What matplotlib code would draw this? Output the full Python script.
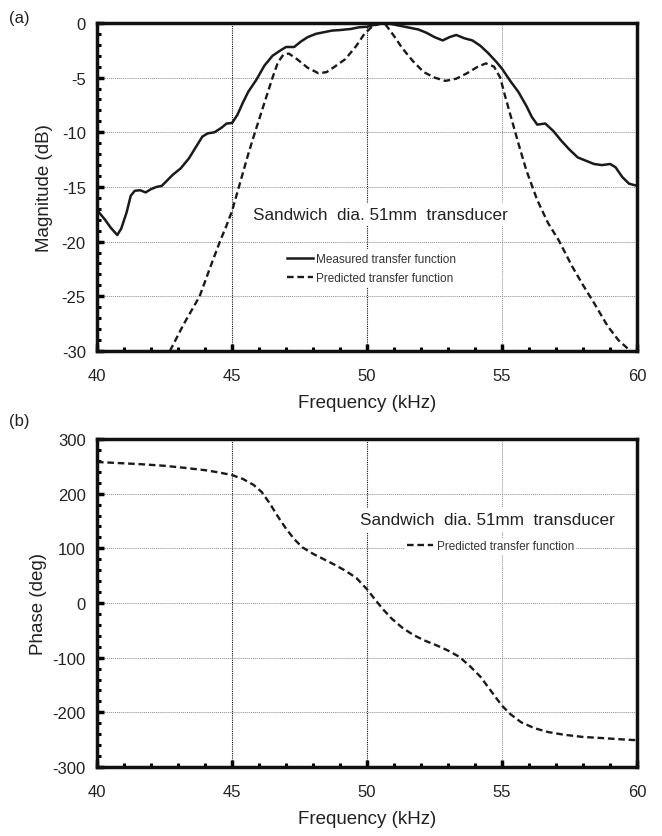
import numpy as np
import matplotlib
matplotlib.use("Agg")
import matplotlib.pyplot as plt

plt.rcParams['font.family'] = ['Liberation Sans', 'DejaVu Sans']
plt.rcParams['axes.unicode_minus'] = False

# measured magnitude (solid)
meas_f = [40.0, 40.3, 40.5, 40.75, 40.9, 41.1, 41.25, 41.4, 41.6, 41.8, 42.0, 42.2, 42.4, 42.6,
          42.8, 43.1, 43.4, 43.65, 43.9, 44.1, 44.35, 44.6, 44.8, 45.0, 45.2, 45.4, 45.6, 45.9,
          46.2, 46.5, 46.8, 47.0, 47.3, 47.55, 47.8, 48.1, 48.4, 48.7, 49.0, 49.4, 49.7, 50.0,
          50.3, 50.7, 51.1, 51.5, 51.9, 52.2, 52.5, 52.8, 53.05, 53.3, 53.6, 53.9, 54.2, 54.5,
          54.8, 55.0, 55.3, 55.6, 55.9, 56.1, 56.3, 56.6, 56.9, 57.2, 57.5, 57.8, 58.1, 58.4,
          58.7, 59.0, 59.2, 59.45, 59.7, 60.0]
meas_db = [-17.1, -18.0, -18.7, -19.4, -18.8, -17.3, -15.8, -15.35, -15.3, -15.5, -15.2, -15.0,
           -14.9, -14.4, -13.9, -13.3, -12.4, -11.4, -10.4, -10.1, -10.0, -9.6, -9.2, -9.15,
           -8.4, -7.3, -6.3, -5.2, -3.9, -3.0, -2.5, -2.2, -2.2, -1.7, -1.3, -1.0, -0.85, -0.7,
           -0.65, -0.55, -0.4, -0.35, -0.15, 0.0, -0.2, -0.4, -0.6, -0.9, -1.3, -1.6, -1.3,
           -1.1, -1.4, -1.6, -2.1, -2.8, -3.6, -4.2, -5.3, -6.3, -7.6, -8.6, -9.3, -9.2, -9.9,
           -10.8, -11.6, -12.3, -12.6, -12.9, -13.0, -12.9, -13.2, -14.1, -14.7, -14.9]

# predicted magnitude (dashed)
pred_f = [42.7, 43.2, 43.8, 44.2, 44.55, 44.8, 45.0, 45.3, 45.6, 45.85, 46.2, 46.5, 46.7, 46.9,
          47.1, 47.4, 47.8, 48.2, 48.5, 48.8, 49.2, 49.6, 49.9, 50.2, 50.5, 50.7, 51.0, 51.3,
          51.7, 52.1, 52.5, 52.9, 53.3, 53.7, 54.1, 54.4, 54.7, 54.93, 55.1, 55.35, 55.6, 55.9,
          56.3, 56.7, 57.1, 57.6, 58.0, 58.4, 58.9, 59.3, 59.75]
pred_db = [-30.0, -27.6, -25.0, -22.3, -20.0, -18.5, -17.2, -14.6, -12.0, -10.0, -7.3, -5.0,
           -3.6, -2.9, -2.8, -3.3, -4.1, -4.6, -4.5, -4.0, -3.3, -2.1, -1.0, -0.3, -0.05, -0.2,
           -1.2, -2.3, -3.5, -4.5, -5.0, -5.3, -5.1, -4.6, -4.0, -3.7, -4.0, -5.0, -6.6, -8.8,
           -11.0, -13.5, -16.2, -18.3, -19.9, -22.3, -24.0, -25.6, -27.7, -29.0, -30.0]

# predicted phase (dashed)
phase_f = [40.0, 40.8, 41.6, 42.5, 43.3, 44.0, 44.5, 45.0, 45.4, 45.8, 46.1, 46.4, 46.7, 47.0,
           47.3, 47.6, 48.0, 48.4, 48.8, 49.2, 49.6, 50.0, 50.3, 50.6, 50.9, 51.3, 51.7, 52.1,
           52.6, 53.0, 53.4, 53.8, 54.2, 54.5, 54.8, 55.0, 55.3, 55.7, 56.2, 56.7, 57.3, 58.0,
           58.7, 59.3, 60.0]
phase_deg = [258, 256, 254, 251, 247, 243, 239, 234, 227, 216, 203, 182, 158, 136, 117, 102,
             90, 80, 70, 59, 46, 25, 6, -12, -28, -45, -58, -68, -78, -87, -98, -115, -135,
             -155, -175, -188, -203, -218, -229, -236, -241, -245, -247, -249, -251]

dash = (0, (2.8, 1.6))
fig = plt.figure(figsize=(6.62, 8.37), dpi=100)
ax1 = fig.add_axes([0.1465, 0.5795, 0.816, 0.3919])
ax2 = fig.add_axes([0.1465, 0.0824, 0.816, 0.3919])


def style(ax, ylim, ymaj, ymin):
    ax.set_xlim(40, 60)
    ax.set_ylim(*ylim)
    ax.set_xticks(np.arange(40, 61, 5))
    ax.set_xticks(np.arange(40, 61, 1), minor=True)
    ax.set_yticks(np.arange(ylim[0], ylim[1] + 0.1, ymaj))
    ax.set_yticks(np.arange(ylim[0], ylim[1] + 0.1, ymin), minor=True)
    ax.tick_params(which='major', direction='in', length=5, width=2.5,
                   labelsize=12, labelcolor='#222222', pad=8, top=False, right=False)
    ax.tick_params(which='minor', direction='in', length=3, width=2.2, top=False, right=False)
    ax.tick_params(axis='x', which='major', pad=12)
    for s in ax.spines.values():
        s.set_linewidth(2.5)
        s.set_color('#111111')
    ax.grid(True, which='major', linestyle=(0, (1, 1)), linewidth=0.7, color='#8a8a8a')
    for i, gl in enumerate(ax.get_xgridlines()):
        if i in (1, 2):
            gl.set_color('#111111')
            gl.set_linewidth(0.8)
    ax.set_xlabel('Frequency (kHz)', fontsize=13.5, color='#222222', labelpad=8)


style(ax1, (-30, 0), 5, 1)
l1, = ax1.plot(meas_f, meas_db, color='#1a1a1a', lw=1.8, label='Measured transfer function')
l2, = ax1.plot(pred_f, pred_db, color='#1a1a1a', lw=1.7, linestyle=dash,
               label='Predicted transfer function')
ax1.set_ylabel('Magnitude (dB)', fontsize=13.5, color='#222222', labelpad=6)
ax1.text(50.5, -17.5, 'Sandwich  dia. 51mm  transducer', ha='center', va='center',
         fontsize=12.3, color='#222222',
         bbox=dict(facecolor='white', edgecolor='none', pad=3))
leg1 = ax1.legend(handles=[l1, l2], loc='upper left', bbox_to_anchor=(0.345, 0.31),
                  fontsize=8.5, frameon=True, handlelength=2.2, handletextpad=0.3,
                  labelspacing=0.6, borderpad=0.3, borderaxespad=0)
leg1.get_frame().set_edgecolor('none')
leg1.get_frame().set_alpha(1)
for t in leg1.get_texts():
    t.set_color('#333333')
fig.text(0.013, 0.978, '(a)', fontsize=12, color='#222222', ha='left', va='center')

style(ax2, (-300, 300), 100, 20)
l3, = ax2.plot(phase_f, phase_deg, color='#1a1a1a', lw=1.7, linestyle=dash,
               label='Predicted transfer function')
ax2.set_ylabel('Phase (deg)', fontsize=13.5, color='#222222', labelpad=4)
ax2.text(54.45, 152, 'Sandwich  dia. 51mm  transducer', ha='center', va='center',
         fontsize=12.3, color='#222222',
         bbox=dict(facecolor='white', edgecolor='none', pad=3))
leg2 = ax2.legend(handles=[l3], loc='center left', bbox_to_anchor=(0.57, 0.673),
                  fontsize=8.5, frameon=True, handlelength=2.2, handletextpad=0.3,
                  borderpad=0.2, borderaxespad=0)
leg2.get_frame().set_edgecolor('none')
leg2.get_frame().set_alpha(1)
for t in leg2.get_texts():
    t.set_color('#333333')
fig.text(0.013, 0.497, '(b)', fontsize=12, color='#222222', ha='left', va='center')

fig.savefig('out.png', dpi=100, facecolor='white')
